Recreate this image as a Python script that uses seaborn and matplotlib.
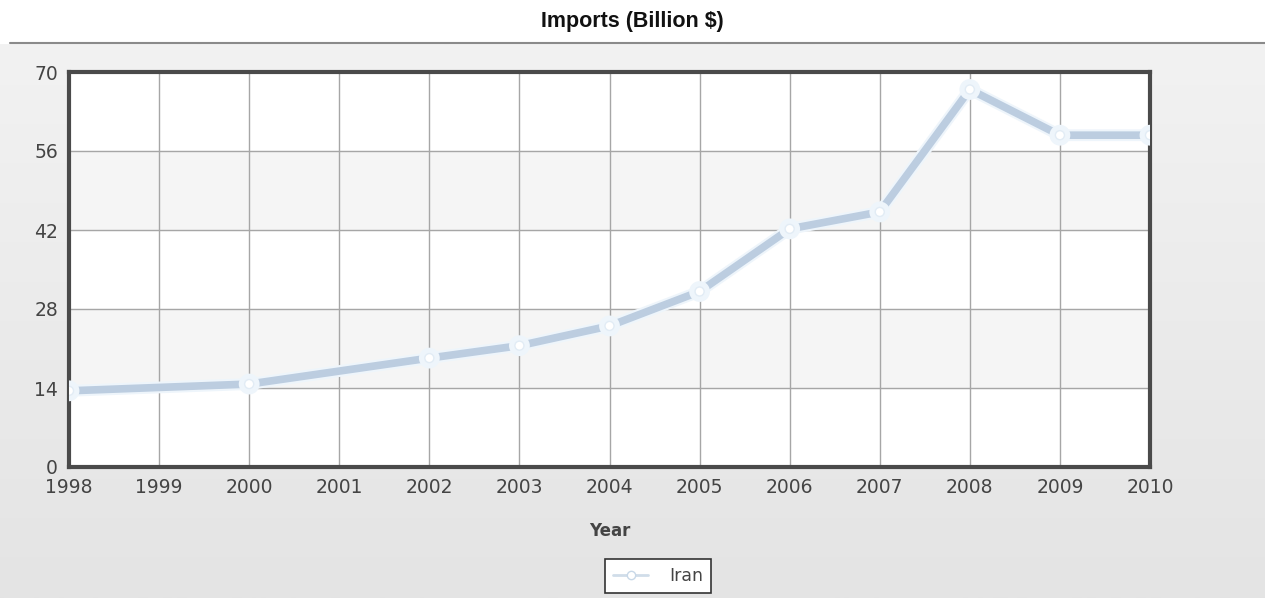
import numpy as np
import pandas as pd
import seaborn as sns
import matplotlib.pyplot as plt
import matplotlib.patheffects as pe
from matplotlib.lines import Line2D
from matplotlib.colors import LinearSegmentedColormap

years = [1998, 2000, 2002, 2003, 2004, 2005, 2006, 2007, 2008, 2009, 2010]
imports = [13.5, 14.7, 19.3, 21.5, 25.0, 31.1, 42.2, 45.2, 66.9, 58.8, 58.8]
year_ticks = list(range(1998, 2011))
value_ticks = [0, 14, 28, 42, 56, 70]

df = pd.DataFrame({'Year': years, 'Imports': imports})

sns.set_style('white')
plt.rcParams['font.family'] = ['DejaVu Sans']

fig = plt.figure(figsize=(12.65, 5.98), dpi=100)
fig.patch.set_facecolor('white')

# grey gradient background under the title rule
bg = fig.add_axes([0, 0, 1, (598 - 44) / 598])
grad = np.linspace(0, 1, 256).reshape(-1, 1)
bg.imshow(grad, aspect='auto', cmap=LinearSegmentedColormap.from_list('g', ['#e4e4e4', '#f2f2f2']),
          origin='lower', extent=[0, 1, 0, 1])
bg.axis('off')
fig.add_artist(Line2D([0.008, 1], [1 - 43 / 598] * 2, color='#8a8a8a', lw=1.5))

fig.text(0.5, 1 - 21 / 598, 'Imports (Billion $)', ha='center', va='center',
         fontsize=15.5, fontweight='bold', family='Liberation Sans', color='#111111')

ax = fig.add_axes([69 / 1265, 1 - 467 / 598, (1150 - 69) / 1265, (467 - 72) / 598])
ax.set_facecolor('white')
for lo, hi in [(14, 28), (42, 56)]:
    ax.axhspan(lo, hi, color='#f5f5f5', zorder=0)

sns.lineplot(data=df, x='Year', y='Imports', ax=ax, color='#bccde0', lw=5.5,
             marker='o', markersize=6.5, markerfacecolor='white',
             markeredgecolor='#e2ecf5', markeredgewidth=1, zorder=3,
             path_effects=[pe.Stroke(linewidth=8.5, foreground='#eef5fb'), pe.Normal()])

ax.set_xlim(1998, 2010)
ax.set_ylim(0, 70)
ax.set_xticks(year_ticks)
ax.set_yticks(value_ticks)
ax.grid(True, color='#a6a6a6', lw=1, zorder=1)
ax.set_axisbelow(True)
for s in ax.spines.values():
    s.set_visible(True)
    s.set_color('#4a4a4a')
    s.set_linewidth(3)
ax.tick_params(length=0, pad=8, labelsize=13.5, labelcolor='#444444')
ax.set_xlabel('Year', fontsize=12, fontweight='bold', color='#444444', labelpad=18)
ax.set_ylabel('')

handle = Line2D([], [], color='#d0dde9', lw=2, marker='o', markersize=6,
                markerfacecolor='white', markeredgecolor='#c8d8e8')
leg = fig.legend([handle], ['Iran'], loc='center', bbox_to_anchor=(658 / 1265, 1 - 576 / 598),
                 frameon=True, fancybox=False, fontsize=12.5, handlelength=2.0,
                 handletextpad=1.2, borderpad=0.45, edgecolor='#333333', framealpha=1)
leg.get_frame().set_linewidth(1.2)
for t in leg.get_texts():
    t.set_color('#444444')

fig.savefig('out.png', dpi=100, facecolor=fig.get_facecolor())
